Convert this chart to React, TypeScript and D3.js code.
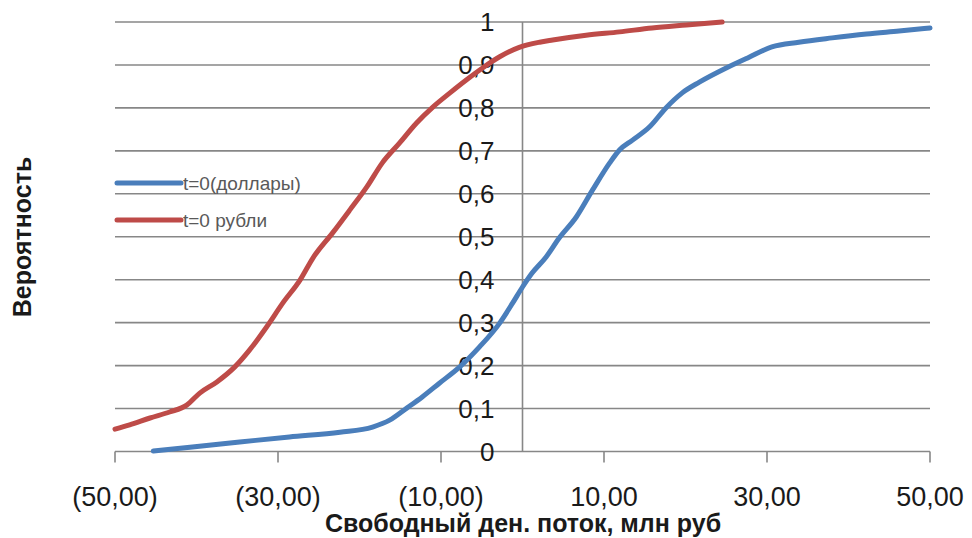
import React from "react";
import * as d3 from "d3";

const usdX = [-45.3, -40.8, -34.7, -28.6, -22.4, -18.4, -16.3, -14.2, -12.3, -10.2, -7.7, -5.3, -2.8, -1.2, 0, 1.2, 2.9, 4.5, 6.6, 8.6, 10.7, 11.9, 13.5, 15.6, 17.6, 19.6, 21.7, 25.0, 27.8, 30.6, 33.9, 38.0, 42.2, 46.2, 50];
const usdY = [0.001, 0.010, 0.022, 0.034, 0.045, 0.057, 0.073, 0.101, 0.127, 0.159, 0.197, 0.243, 0.299, 0.346, 0.383, 0.416, 0.453, 0.497, 0.546, 0.609, 0.672, 0.702, 0.725, 0.756, 0.800, 0.835, 0.860, 0.893, 0.918, 0.942, 0.953, 0.963, 0.972, 0.979, 0.986];

const rubX = [-50, -48.2, -45.7, -43.3, -41.2, -39.6, -37.5, -35.3, -33.5, -31.4, -29.4, -27.3, -25.7, -23.3, -21.2, -19.1, -17.2, -15.1, -13.0, -11.0, -8.9, -6.9, -4.9, -2.8, -0.4, 2.1, 3.7, 7.8, 11.9, 15.9, 20.1, 24.5];
const rubY = [0.052, 0.062, 0.078, 0.092, 0.108, 0.136, 0.162, 0.197, 0.236, 0.290, 0.346, 0.399, 0.451, 0.509, 0.562, 0.616, 0.672, 0.718, 0.765, 0.802, 0.835, 0.865, 0.893, 0.919, 0.941, 0.953, 0.958, 0.969, 0.977, 0.986, 0.993, 1.0];

const xTicks = [-50, -30, -10, 10, 30, 50];
const xTickLabels = ["(50,00)", "(30,00)", "(10,00)", "10,00", "30,00", "50,00"];
const yTicks = [0, 0.1, 0.2, 0.3, 0.4, 0.5, 0.6, 0.7, 0.8, 0.9, 1];
const yTickLabels = ["0", "0,1", "0,2", "0,3", "0,4", "0,5", "0,6", "0,7", "0,8", "0,9", "1"];

const seriesNames = ["t=0(доллары)", "t=0 рубли"];
const seriesColors = ["#4A7EBB", "#BE4B48"];

const xTitle = "Свободный  ден. поток,  млн руб";
const yTitle = "Вероятность";

export default function App() {
  const W = 972, H = 538;
  const x = d3.scaleLinear().domain([-50, 50]).range([115, 930]);
  const y = d3.scaleLinear().domain([0, 1]).range([451.5, 22]);
  const line = d3
    .line<[number, number]>()
    .x((d) => x(d[0]))
    .y((d) => y(d[1]))
    .curve(d3.curveMonotoneX);
  const usd: [number, number][] = usdX.map((v, i) => [v, usdY[i]]);
  const rub: [number, number][] = rubX.map((v, i) => [v, rubY[i]]);
  const gridColor = "#878787";
  const font = "'Liberation Sans', Arial, sans-serif";

  return (
    <svg
      width={W}
      height={H}
      style={{ position: "absolute", left: 0, top: 0, background: "#fff" }}
    >
      {yTicks.map((t, i) => (
        <line key={"g" + i} x1={x(-50)} x2={x(50)} y1={y(t)} y2={y(t)} stroke={gridColor} strokeWidth={1.6} />
      ))}
      <line x1={x(0)} x2={x(0)} y1={y(1)} y2={y(0)} stroke={gridColor} strokeWidth={1.6} />
      {xTicks.map((t, i) => (
        <line key={"t" + i} x1={x(t)} x2={x(t)} y1={y(0)} y2={y(0) + 11} stroke={gridColor} strokeWidth={1.6} />
      ))}
      {yTicks.map((t, i) => (
        <text key={"yl" + i} x={x(0) - 28} y={y(t)} dy="0.36em" textAnchor="end" fontFamily={font} fontSize={26} fill="#1a1a1a">
          {yTickLabels[i]}
        </text>
      ))}
      {xTicks.map((t, i) => (
        <text key={"xl" + i} x={x(t)} y={496} dy="0.36em" textAnchor="middle" fontFamily={font} fontSize={27} fill="#1a1a1a">
          {xTickLabels[i]}
        </text>
      ))}
      <path d={line(rub) || ""} fill="none" stroke={seriesColors[1]} strokeWidth={5} strokeLinejoin="round" strokeLinecap="round" />
      <path d={line(usd) || ""} fill="none" stroke={seriesColors[0]} strokeWidth={5} strokeLinejoin="round" strokeLinecap="round" />
      {seriesNames.map((n, i) => (
        <g key={"lg" + i} transform={`translate(117, ${183 + i * 37})`}>
          <line x1={0} x2={64} y1={0} y2={0} stroke={seriesColors[i]} strokeWidth={5} strokeLinecap="round" />
          <text x={66} y={0} dy="0.36em" fontFamily={font} fontSize={19} fill="#595959">
            {n}
          </text>
        </g>
      ))}
      <text x={523} y={523} dy="0.36em" textAnchor="middle" fontFamily={font} fontSize={25} fontWeight="bold" fill="#1a1a1a">
        {xTitle}
      </text>
      <text
        transform={`translate(22, 237) rotate(-90)`}
        dy="0.36em"
        textAnchor="middle"
        fontFamily={font}
        fontSize={25}
        fontWeight="bold"
        fill="#1a1a1a"
      >
        {yTitle}
      </text>
    </svg>
  );
}
